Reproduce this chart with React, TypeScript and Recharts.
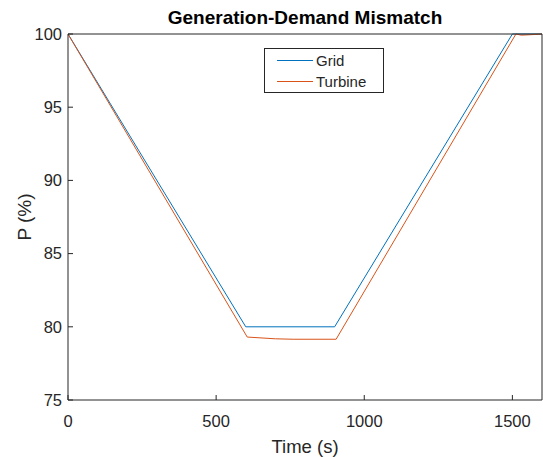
import { Line, LineChart, XAxis, YAxis } from "recharts";

// MATLAB look: boxed axes, inward ticks, Helvetica-ish labels, default
// blue/orange line colours.

const timeTicks = [0, 500, 1000, 1500];
const powerTicks = [75, 80, 85, 90, 95, 100];

const gridData = [
  { t: 0, p: 100 },
  { t: 600, p: 80 },
  { t: 900, p: 80 },
  { t: 1500, p: 100 },
  { t: 1600, p: 100 },
];

const turbineData = [
  { t: 0, p: 100 },
  { t: 605, p: 79.3 },
  { t: 700, p: 79.18 },
  { t: 760, p: 79.15 },
  { t: 905, p: 79.15 },
  { t: 1512, p: 100 },
  { t: 1530, p: 99.92 },
  { t: 1560, p: 99.95 },
  { t: 1600, p: 100 },
];

const BLUE = "#0072BD";
const ORANGE = "#D95319";
const AXIS = "#262626";
const FONT = "'Liberation Sans', Arial, Helvetica, sans-serif";
const TICK = { fontSize: 16.5, fill: AXIS, fontFamily: FONT } as const;

function LegendBox() {
  const row = (color: string, name: string) => (
    <div style={{ display: "flex", alignItems: "center", height: 21 }}>
      <div style={{ width: 36, height: 0, borderTop: `1px solid ${color}`, marginRight: 3 }} />
      <span>{name}</span>
    </div>
  );
  return (
    <div
      style={{
        position: "absolute",
        left: 264,
        top: 48,
        boxSizing: "border-box",
        width: 120,
        height: 45,
        border: `1px solid ${AXIS}`,
        background: "#fff",
        padding: "1px 0 0 12px",
        fontFamily: FONT,
        fontSize: 15,
        color: AXIS,
        lineHeight: "21px",
      }}
    >
      {row(BLUE, "Grid")}
      {row(ORANGE, "Turbine")}
    </div>
  );
}

function YLabel({ viewBox }: any) {
  const cy = viewBox.y + viewBox.height / 2;
  return (
    <text
      x={24}
      y={cy}
      transform={`rotate(-90, 24, ${cy})`}
      textAnchor="middle"
      dominantBaseline="central"
      fontSize={19}
      fill={AXIS}
      fontFamily={FONT}
    >
      P (%)
    </text>
  );
}

function XLabel({ viewBox }: any) {
  const cx = viewBox.x + viewBox.width / 2;
  return (
    <text
      x={cx}
      y={446}
      textAnchor="middle"
      dominantBaseline="central"
      fontSize={18.5}
      fill={AXIS}
      fontFamily={FONT}
    >
      Time (s)
    </text>
  );
}

export default function App() {
  return (
    <div style={{ position: "absolute", left: 0, top: 0, width: 543, height: 457, background: "#fff" }}>
      <div
        style={{
          position: "absolute",
          left: 68,
          width: 474,
          top: 7,
          textAlign: "center",
          fontFamily: FONT,
          fontWeight: "bold",
          fontSize: 19,
          lineHeight: "22px",
          color: "#000",
        }}
      >
        Generation-Demand Mismatch
      </div>
      <LineChart width={543} height={457} margin={{ top: 33, right: 0, left: 0, bottom: 0 }}>
        <XAxis
          xAxisId="bottom"
          dataKey="t"
          type="number"
          domain={[0, 1600]}
          ticks={timeTicks}
          height={57}
          stroke={AXIS}
          tickSize={-5}
          tickMargin={20}
          tick={TICK}
          allowDataOverflow
          label={<XLabel />}
        />
        <XAxis
          xAxisId="top"
          orientation="top"
          type="number"
          domain={[0, 1600]}
          ticks={timeTicks}
          height={1}
          stroke={AXIS}
          tickSize={-5}
          tickFormatter={() => ""}
        />
        <YAxis
          yAxisId="left"
          type="number"
          domain={[75, 100]}
          ticks={powerTicks}
          width={68}
          stroke={AXIS}
          tickSize={-5}
          tickMargin={11}
          tick={TICK}
          label={<YLabel />}
        />
        <YAxis
          yAxisId="right"
          orientation="right"
          type="number"
          domain={[75, 100]}
          ticks={powerTicks}
          width={1}
          stroke={AXIS}
          tickSize={-5}
          tickFormatter={() => ""}
        />
        <Line
          xAxisId="bottom"
          yAxisId="left"
          data={gridData}
          dataKey="p"
          name="Grid"
          type="linear"
          stroke={BLUE}
          strokeWidth={1}
          dot={false}
          isAnimationActive={false}
        />
        <Line
          xAxisId="bottom"
          yAxisId="left"
          data={turbineData}
          dataKey="p"
          name="Turbine"
          type="linear"
          stroke={ORANGE}
          strokeWidth={1}
          dot={false}
          isAnimationActive={false}
        />
      </LineChart>
      <LegendBox />
    </div>
  );
}
